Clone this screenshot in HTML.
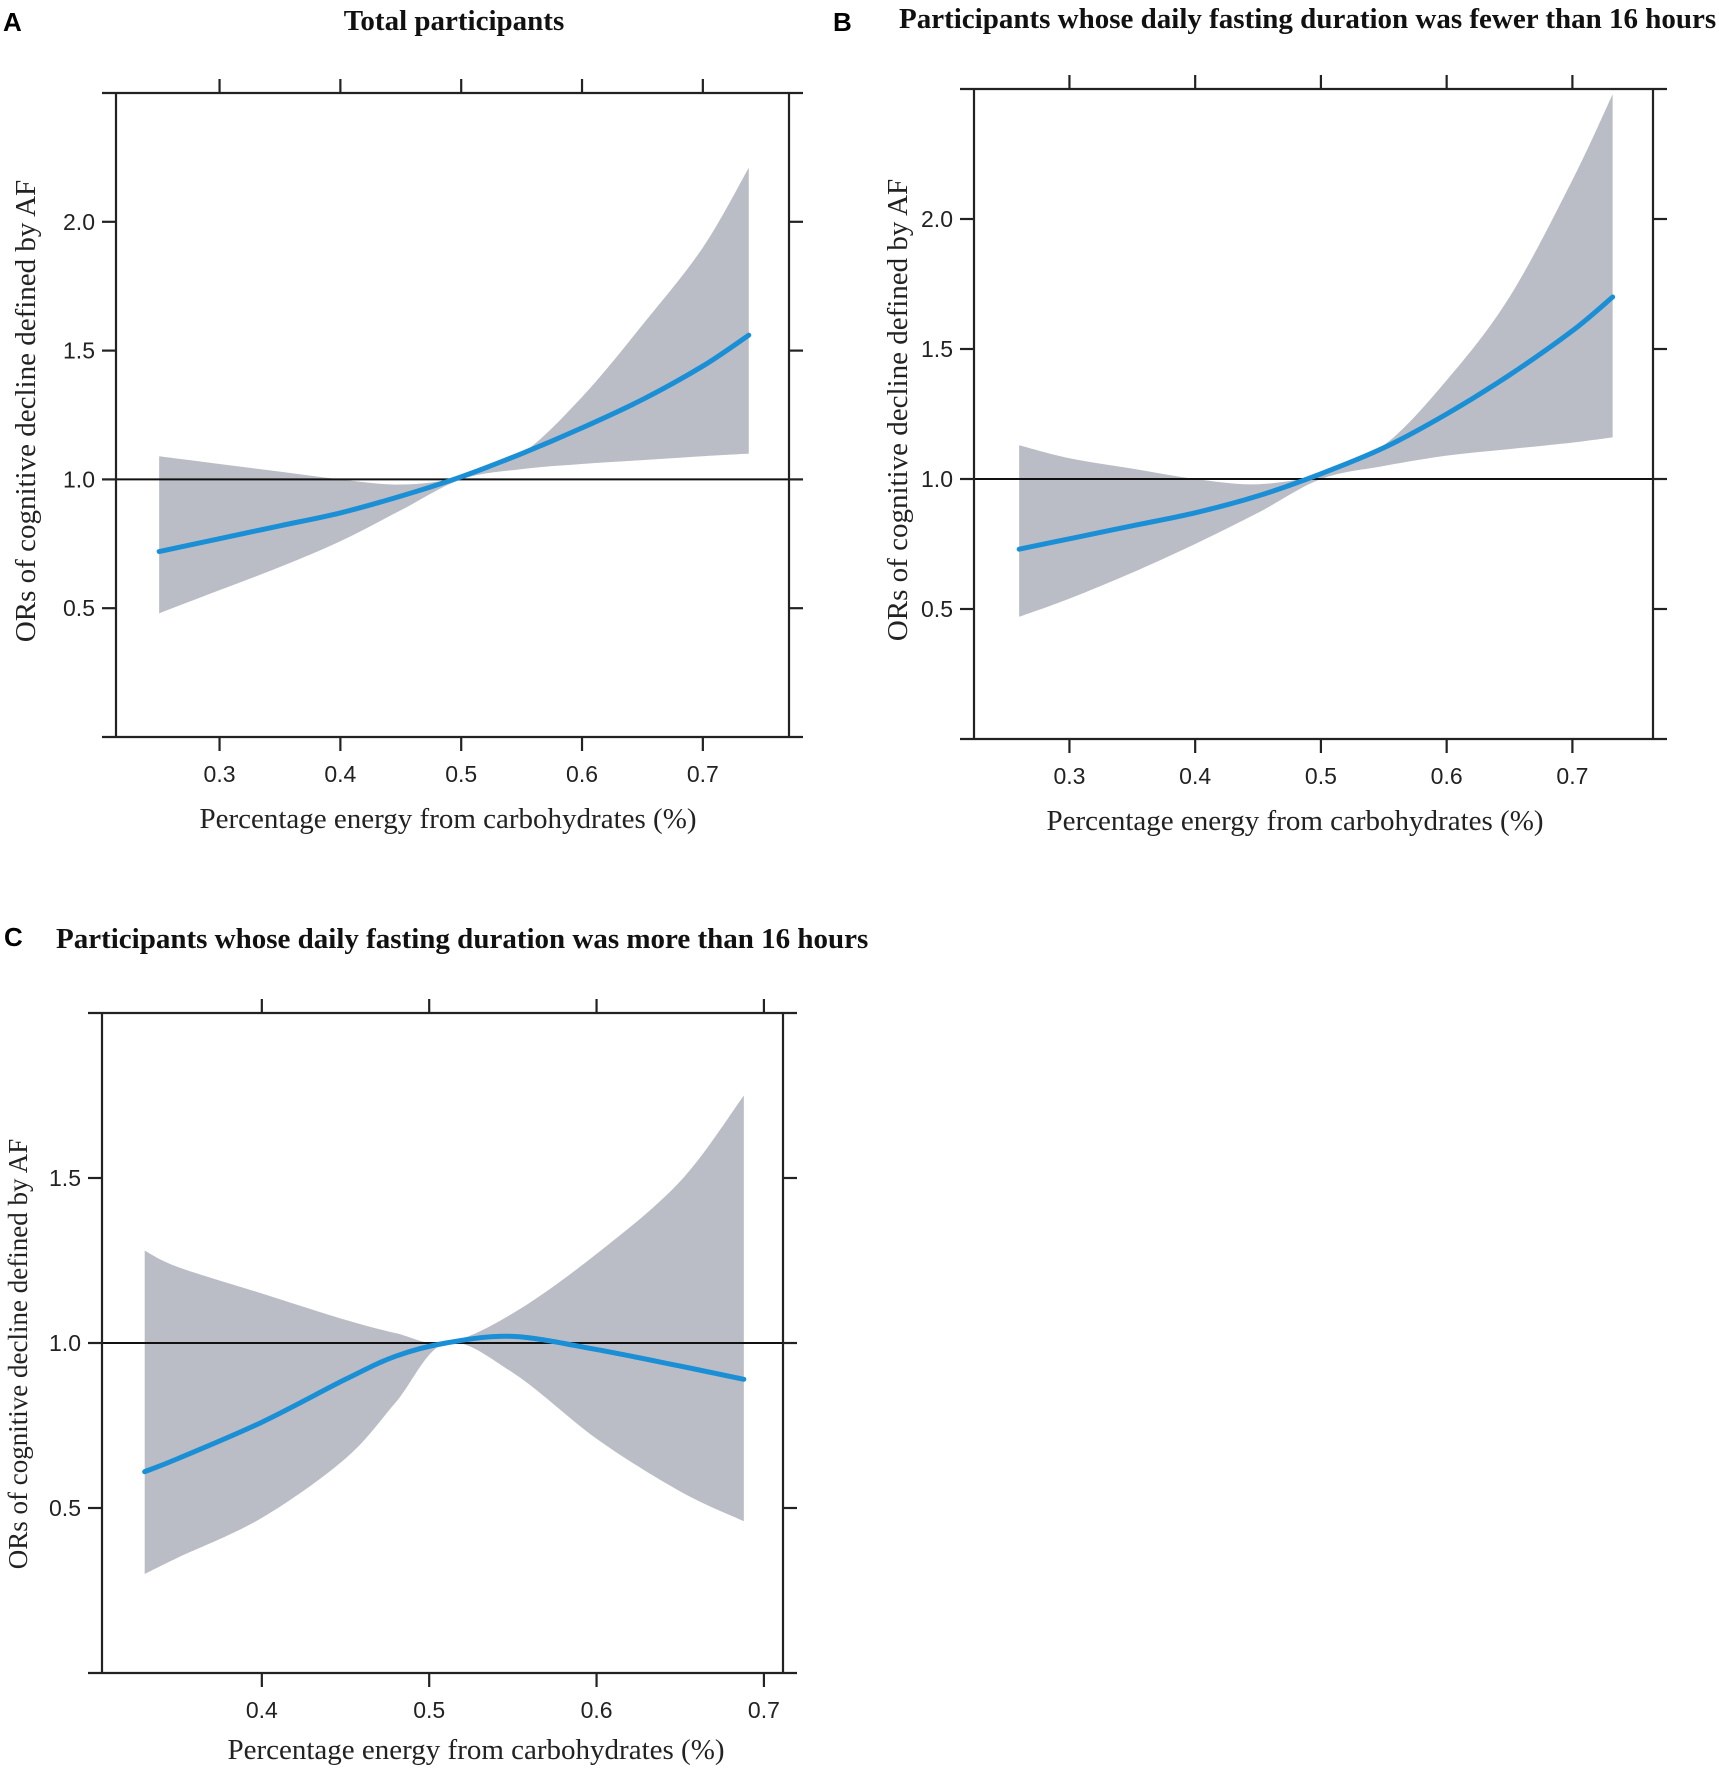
<!DOCTYPE html>
<html><head><meta charset="utf-8"><style>
html,body{margin:0;padding:0;background:#fff}
svg{display:block}
.tl{font-family:"Liberation Sans",sans-serif;font-size:23px;fill:#222}
.ti{font-family:"Liberation Serif",serif;font-weight:bold;font-size:29px;fill:#111}
.ax{font-family:"Liberation Serif",serif;font-size:29px;fill:#222}
.pl{font-family:"Liberation Sans",sans-serif;font-weight:bold;font-size:26px;fill:#000}
</style></head><body>
<svg id="fig" width="1719" height="1772" viewBox="0 0 1719 1772" xmlns="http://www.w3.org/2000/svg">
<text class="pl" x="3" y="31">A</text>
<text class="pl" x="833" y="31">B</text>
<text class="pl" x="4" y="946">C</text>
</svg>
<script>
// Panel A data
const xA = [0.25,0.3,0.35,0.4,0.45,0.5,0.55,0.6,0.65,0.7,0.738];
const fitA = [0.72,0.77,0.82,0.87,0.935,1.01,1.10,1.2,1.31,1.44,1.56];
const upA = [1.09,1.06,1.03,1.0,0.98,1.01,1.10,1.32,1.6,1.9,2.21];
const loA = [0.48,0.57,0.66,0.76,0.88,1.0,1.04,1.06,1.075,1.09,1.10];
// Panel B data
const xB = [0.26,0.3,0.35,0.4,0.45,0.5,0.55,0.6,0.65,0.7,0.732];
const fitB = [0.73,0.77,0.82,0.87,0.935,1.02,1.12,1.25,1.4,1.57,1.70];
const upB = [1.13,1.08,1.04,1.0,0.98,1.02,1.13,1.38,1.7,2.15,2.48];
const loB = [0.47,0.54,0.64,0.75,0.87,1.0,1.05,1.09,1.115,1.14,1.16];
// Panel C data
const xC = [0.33,0.35,0.4,0.45,0.48,0.51,0.55,0.6,0.65,0.688];
const fitC = [0.61,0.65,0.76,0.89,0.96,1.0,1.02,0.98,0.93,0.89];
const upC = [1.28,1.23,1.15,1.07,1.03,1.0,1.09,1.27,1.49,1.75];
const loC = [0.30,0.35,0.47,0.65,0.82,1.0,0.91,0.71,0.55,0.46];
// Tick labels
const xTicksAB = [0.3,0.4,0.5,0.6,0.7];
const xTicksC = [0.4,0.5,0.6,0.7];
const yTicksAB = [0.5,1.0,1.5,2.0];
const yTicksC = [0.5,1.0,1.5];

const NS="http://www.w3.org/2000/svg";
const svg=document.getElementById('fig');
function mk(tag,attrs,parent){const e=document.createElementNS(NS,tag);for(const k in attrs)e.setAttribute(k,attrs[k]);(parent||svg).appendChild(e);return e;}
function smooth(pts){let d=`M${pts[0][0]},${pts[0][1]}`;for(let i=0;i<pts.length-1;i++){const p0=pts[i-1]||pts[i],p1=pts[i],p2=pts[i+1],p3=pts[i+2]||p2;
const c1=[p1[0]+(p2[0]-p0[0])/6,p1[1]+(p2[1]-p0[1])/6],c2=[p2[0]-(p3[0]-p1[0])/6,p2[1]-(p3[1]-p1[1])/6];
d+=` C${c1[0]},${c1[1]} ${c2[0]},${c2[1]} ${p2[0]},${p2[1]}`;}return d;}
function smoothCont(pts){return smooth(pts).replace(/^M/,'L');}

function panel(o){
  const g=mk('g',{});
  
  
  const sx=v=>o.L+(v-o.x0)/(o.x1-o.x0)*(o.R-o.L);
  const sy=v=>o.B-(v-o.y0)/(o.y1-o.y0)*(o.B-o.T);
  const up=o.xs.map((x,i)=>[sx(x),sy(o.up[i])]);
  const lo=o.xs.map((x,i)=>[sx(x),sy(o.lo[i])]).reverse();
  const band=mk('path',{d:smooth(up)+' '+smoothCont(lo)+' Z',fill:'#babdc6'},g);
  
  
  const ref=mk('line',{x1:o.L,x2:o.R,y1:sy(1),y2:sy(1),stroke:'#111','stroke-width':2},g);
  
  
  const fit=mk('path',{d:smooth(o.xs.map((x,i)=>[sx(x),sy(o.fit[i])])),fill:'none',stroke:'#1a8fd6','stroke-width':5,'stroke-linecap':'round'},g);
  
  
  const t=14;
  const fr=mk('g',{stroke:'#222','stroke-width':2.2,fill:'none'},g);
  
  
  mk('line',{x1:o.L-t,x2:o.R+t,y1:o.T,y2:o.T},fr);
  mk('line',{x1:o.L-t,x2:o.R+t,y1:o.B,y2:o.B},fr);
  mk('line',{x1:o.L,x2:o.L,y1:o.T,y2:o.B},fr);
  mk('line',{x1:o.R,x2:o.R,y1:o.T,y2:o.B},fr);
  o.xt.forEach(v=>{const x=sx(v);
    mk('line',{x1:x,x2:x,y1:o.T,y2:o.T-t},fr);mk('line',{x1:x,x2:x,y1:o.B,y2:o.B+t},fr);
    const tx=mk('text',{class:'tl',x:x,y:o.B+45,'text-anchor':'middle'},g);tx.textContent=v.toFixed(1);
    
    });
  o.yt.forEach(v=>{const y=sy(v);
    mk('line',{x1:o.L,x2:o.L-t,y1:y,y2:y},fr);mk('line',{x1:o.R,x2:o.R+t,y1:y,y2:y},fr);
    const ty=mk('text',{class:'tl',x:o.L-21,y:y+8,'text-anchor':'end'},g);ty.textContent=v.toFixed(1);
    
    });
  const tt=mk('text',{class:'ti',x:o.tx,y:o.ty,'text-anchor':o.ta},g);tt.textContent=o.title;
  
  
  const xa=mk('text',{class:'ax',x:o.xc,y:o.B+o.xo,'text-anchor':'middle'},g);xa.textContent='Percentage energy from carbohydrates (%)';
  
  
  const ya=mk('text',{class:'ax',x:0,y:0,'text-anchor':'middle','font-size':o.yf,transform:`translate(${o.yx},${o.yc}) rotate(-90)`},g);ya.textContent='ORs of cognitive decline defined by AF';
  ya.setAttribute('style','font-size:'+o.yf+'px');
  
  
}
panel({name:'panel-a',L:116,R:789,T:93,B:737,x0:0.2143,x1:0.7713,y0:0,y1:2.5,xs:xA,fit:fitA,up:upA,lo:loA,xt:xTicksAB,yt:yTicksAB,title:'Total  participants',tx:454,ty:30,ta:'middle',yx:35,yc:411,yf:29,xo:91,xc:448});
panel({name:'panel-b',L:974,R:1653,T:89,B:739,x0:0.2241,x1:0.7641,y0:0,y1:2.5,xs:xB,fit:fitB,up:upB,lo:loB,xt:xTicksAB,yt:yTicksAB,title:'Participants whose daily fasting duration was fewer than 16 hours',tx:899,ty:28,ta:'start',yx:907,yc:410,yf:29,xo:91,xc:1295});
panel({name:'panel-c',L:102,R:783,T:1013,B:1673,x0:0.3045,x1:0.7114,y0:0,y1:2.0,xs:xC,fit:fitC,up:upC,lo:loC,xt:xTicksC,yt:yTicksC,title:'Participants whose daily fasting duration was more than 16 hours',tx:56,ty:948,ta:'start',yx:27,yc:1354,yf:27,xo:86,xc:476});
</script>
</body></html>
